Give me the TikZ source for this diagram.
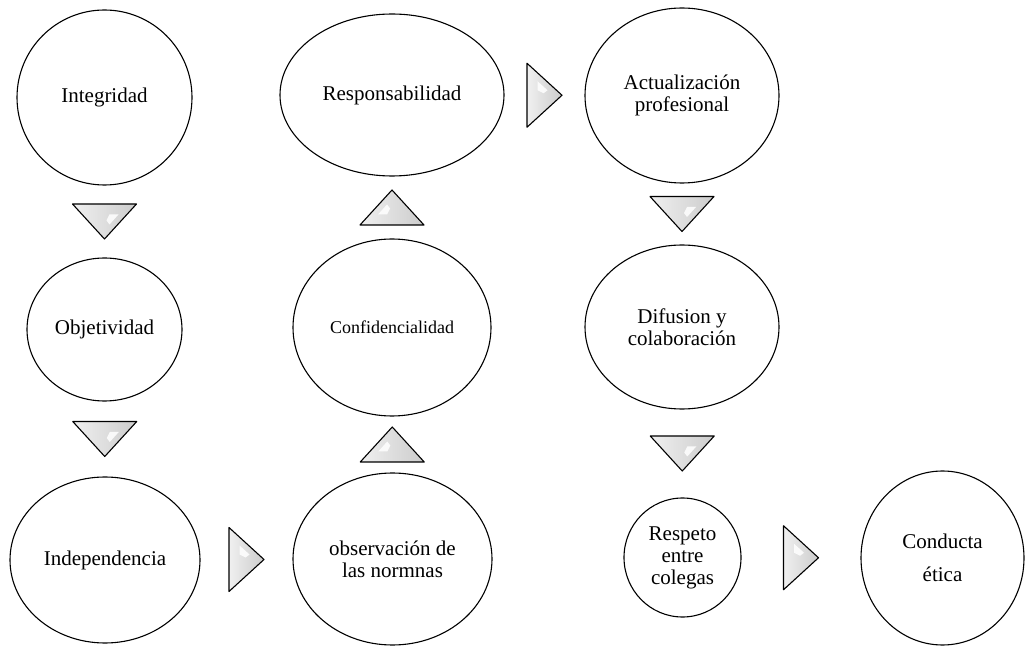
\documentclass[tikz,border=0pt]{standalone}
\usepackage{fontspec}
\setmainfont{Liberation Serif}
\usetikzlibrary{shapes.geometric,calc}

\tikzset{
  valor/.style={ellipse, draw=black, line width=1.1pt, fill=white,
                inner sep=0pt, align=center, font=\fontsize{21}{22}\selectfont},
  pics/flecha/.style={code={
    \draw[rotate=#1, line width=1.1pt, line join=round,
          left color=gray!12, right color=gray!40]
      (-17.5,32) -- (17.5,0) -- (-17.5,-32) -- cycle;
    \fill[rotate=#1, white, opacity=.85]
      (-7,14) -- (3,5) -- (-1,2) -- (-7,5) -- cycle;
  }}
}

\begin{document}
\begin{tikzpicture}[x=1pt, y=1pt]
\useasboundingbox (0,0) rectangle (1026,646);

% first column
\node[valor, minimum width=175pt, minimum height=175pt]
  (integ) at (104.5,548.5) {Integridad};
\node[valor, minimum width=155pt, minimum height=143pt]
  (objet) at (104.5,316.5) {Objetividad};
\node[valor, minimum width=190pt, minimum height=166pt]
  (indep) at (105,86) {Independencia};

% second column
\node[valor, minimum width=199pt, minimum height=172pt]
  (normas) at (392.5,87) {observación de\\las normnas};
\node[valor, minimum width=198pt, minimum height=177pt,
      font=\fontsize{18}{20}\selectfont]
  (confid) at (392,318.5) {Confidencialidad};
\node[valor, minimum width=224pt, minimum height=162pt]
  (respon) at (392,551) {Responsabilidad};

% third column
\node[valor, minimum width=194pt, minimum height=175pt]
  (actual) at (682,550.5) {Actualización\\profesional};
\node[valor, minimum width=194pt, minimum height=164pt]
  (difus) at (682,319) {Difusion y\\colaboración};
\node[valor, minimum width=117pt, minimum height=119pt]
  (respeto) at (682.5,88.5) {Respeto\\entre\\colegas};
\node[valor, minimum width=163pt, minimum height=174pt]
  (conducta) at (942.5,88) {Conducta\\[11pt]ética};

% arrows between the values
\path ($(integ.south)!.5!(objet.north)$) pic {flecha=-90};
\path ($(objet.south)!.5!(indep.north)$) pic {flecha=-90};
\path ($(indep.east)!.5!(normas.west)$) pic {flecha=0};
\path ($(normas.north)!.5!(confid.south)$) pic {flecha=90};
\path ($(confid.north)!.5!(respon.south)$) pic {flecha=90};
\path ($(respon.east)!.5!(actual.west)$) pic {flecha=0};
\path ($(actual.south)!.5!(difus.north)$) pic {flecha=-90};
\path ($(difus.south)!.5!(respeto.north)$) pic {flecha=-90};
\path ($(respeto.east)!.5!(conducta.west)$) pic {flecha=0};
\end{tikzpicture}
\end{document}
